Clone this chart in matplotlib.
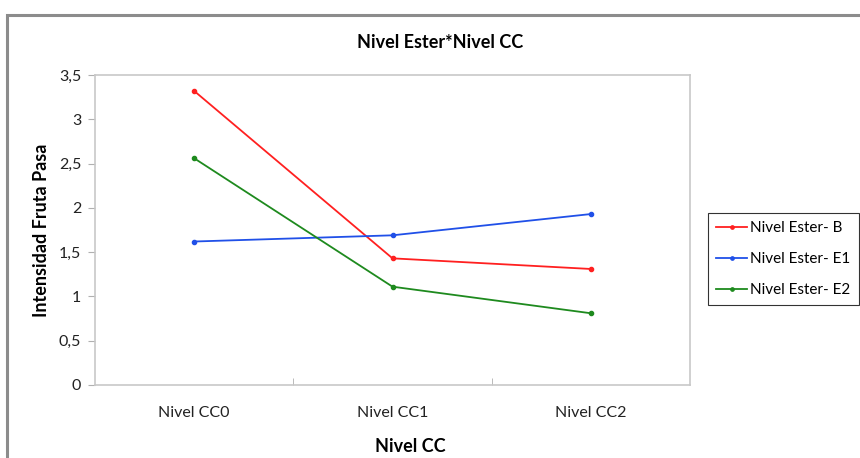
import matplotlib
matplotlib.use("Agg")
import matplotlib.pyplot as plt
from matplotlib.patches import Rectangle
from matplotlib.ticker import FuncFormatter

plt.rcParams['font.family'] = ['Lato', 'DejaVu Sans']

niveles_cc = ['Nivel CC0', 'Nivel CC1', 'Nivel CC2']
ester_b = [3.32, 1.43, 1.31]
ester_e1 = [1.62, 1.69, 1.93]
ester_e2 = [2.56, 1.11, 0.81]
series_labels = ['Nivel Ester- B', 'Nivel Ester- E1', 'Nivel Ester- E2']
series_colors = ['#ff2020', '#2050e8', '#1e8a1e']

fig = plt.figure(figsize=(8.6, 4.58), dpi=100)
# outer chart frame (only top and left edges fall inside the image)
fig.patches.append(Rectangle((7 / 860, -0.1), 1.2, 1 - 15 / 458 + 0.1,
                             transform=fig.transFigure, fill=False,
                             edgecolor='#8c8c8c', linewidth=2.2))

ax = fig.add_axes([95 / 860, 1 - 385 / 458, (690 - 95) / 860, (385 - 75) / 458])
x = range(len(niveles_cc))
for vals, lab, col in zip([ester_b, ester_e1, ester_e2], series_labels, series_colors):
    ax.plot(x, vals, color=col, linewidth=1.3, marker='o', markersize=3, label=lab)

ax.set_xlim(-0.5, len(niveles_cc) - 0.5)
ax.set_ylim(0, 3.5)
ax.set_yticks([0, 0.5, 1, 1.5, 2, 2.5, 3, 3.5])
ax.yaxis.set_major_formatter(FuncFormatter(lambda v, p: ('%g' % v).replace('.', ',')))
ax.set_xticks(list(x))
ax.set_xticklabels(niveles_cc)
ax.set_xticks([0.5, 1.5], minor=True)
ax.tick_params(axis='x', which='major', length=0, pad=15, labelsize=11.5, labelcolor='#222222')
ax.tick_params(axis='x', which='minor', length=5, direction='in', color='#b0b0b0')
ax.tick_params(axis='y', length=5, color='#b0b0b0', labelsize=11.5, pad=5, labelcolor='#222222')
for s in ax.spines.values():
    s.set_color('#c8c8c8')
    s.set_linewidth(1.2)

fig.text(440 / 860, 1 - 42 / 458, 'Nivel Ester*Nivel CC', fontsize=13,
         fontweight='bold', ha='center', va='center')
fig.text(410 / 860, 1 - 447 / 458, 'Nivel CC', fontsize=13,
         fontweight='bold', ha='center', va='center')
fig.text(42 / 860, 1 - 230 / 458, 'Intensidad Fruta Pasa', fontsize=13,
         fontweight='bold', ha='center', va='center', rotation=90)

leg = ax.legend(loc='upper left', bbox_to_anchor=(708 / 860, 1 - 213 / 458),
                bbox_transform=fig.transFigure, borderaxespad=0, fontsize=11,
                frameon=True, fancybox=False, handlelength=2.0, handletextpad=0.2,
                borderpad=0.55, labelspacing=1.1, markerscale=0.8)
leg.get_frame().set_edgecolor('black')
leg.get_frame().set_linewidth(0.8)

fig.savefig('out.png', dpi=100)
